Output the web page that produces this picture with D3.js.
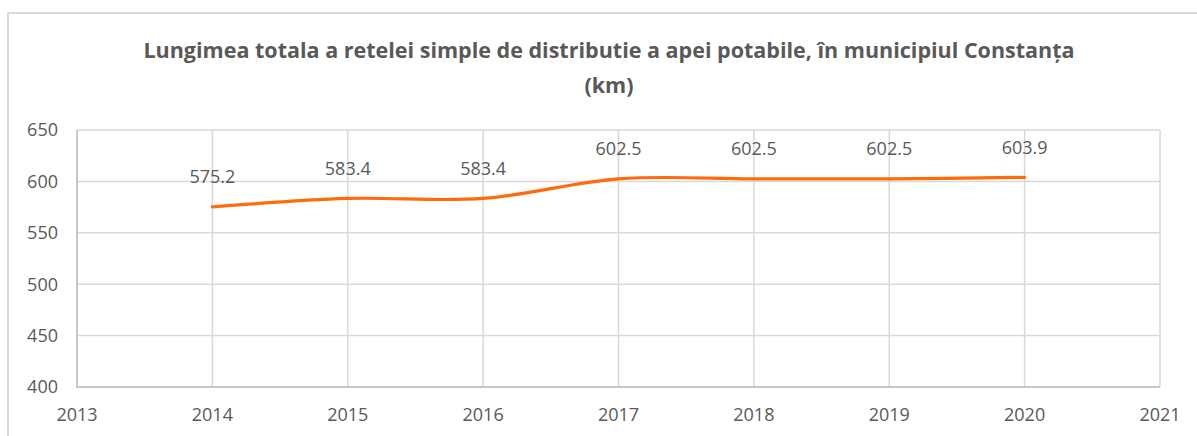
<!DOCTYPE html>
<html>
<head>
<meta charset="utf-8">
<script src="https://cdn.jsdelivr.net/npm/d3@7"></script>
<style>
  body { margin: 0; background: #fff; }
  svg { display: block; }
  text { font-family: "Open Sans", "Noto Sans", sans-serif; fill: #595959; }
</style>
</head>
<body>
<div id="chart"></div>
<script>
;(function () {
  'use strict';

  // chart data
  var years = [2014, 2015, 2016, 2017, 2018, 2019, 2020];
  var lengthKm = [575.2, 583.4, 583.4, 602.5, 602.5, 602.5, 603.9];
  var xTicks = [2013, 2014, 2015, 2016, 2017, 2018, 2019, 2020, 2021];
  var yTicks = [400, 450, 500, 550, 600, 650];
  var titleLines = ['Lungimea totala a retelei simple de distributie a apei potabile, în municipiul Constanța', '(km)'];

  var width = 1197, height = 436;
  var plot = { left: 77, right: 1160, top: 130, bottom: 387 };

  var svg = d3.select('#chart').append('svg')
    .attr('width', width)
    .attr('height', height);

  // outer chart border (runs off the right and bottom edges)
  svg.append('path')
    .attr('d', 'M8,' + (height + 5) + 'V13H' + (width + 5))
    .attr('fill', 'none')
    .attr('stroke', '#d9d9d9')
    .attr('stroke-width', 2);

  var x = d3.scaleLinear().domain([2013, 2021]).range([plot.left, plot.right]);
  var y = d3.scaleLinear().domain([400, 650]).range([plot.bottom, plot.top]);

  // gridlines
  svg.append('g').selectAll('line.h')
    .data(yTicks)
    .enter().append('line')
    .attr('x1', plot.left).attr('x2', plot.right)
    .attr('y1', function (d) { return y(d); })
    .attr('y2', function (d) { return y(d); })
    .attr('stroke', '#d9d9d9')
    .attr('stroke-width', 1.5);

  svg.append('g').selectAll('line.v')
    .data(xTicks)
    .enter().append('line')
    .attr('y1', plot.top).attr('y2', plot.bottom)
    .attr('x1', function (d) { return x(d); })
    .attr('x2', function (d) { return x(d); })
    .attr('stroke', '#d9d9d9')
    .attr('stroke-width', 1.5);

  // axis lines
  svg.append('path')
    .attr('d', 'M' + plot.left + ',' + plot.top + 'V' + plot.bottom + 'H' + plot.right)
    .attr('fill', 'none')
    .attr('stroke', '#c8c8c8')
    .attr('stroke-width', 2);

  // tick labels
  svg.append('g').selectAll('text')
    .data(yTicks)
    .enter().append('text')
    .attr('x', plot.left - 19)
    .attr('y', function (d) { return y(d); })
    .attr('dy', '0.35em')
    .attr('text-anchor', 'end')
    .style('font-size', '18px')
    .text(function (d) { return d; });

  svg.append('g').selectAll('text')
    .data(xTicks)
    .enter().append('text')
    .attr('x', function (d) { return x(d); })
    .attr('y', 415)
    .attr('dy', '0.35em')
    .attr('text-anchor', 'middle')
    .style('font-size', '18px')
    .text(function (d) { return d; });

  // series
  var points = years.map(function (yr, i) { return { x: yr, y: lengthKm[i] }; });

  var line = d3.line()
    .x(function (d) { return x(d.x); })
    .y(function (d) { return y(d.y); })
    .curve(d3.curveCardinal.tension(0));

  svg.append('path')
    .datum(points)
    .attr('d', line)
    .attr('fill', 'none')
    .attr('stroke', '#ff6a0d')
    .attr('stroke-width', 3.2)
    .attr('stroke-linecap', 'round');

  svg.append('g').selectAll('text')
    .data(points)
    .enter().append('text')
    .attr('x', function (d) { return x(d.x); })
    .attr('y', function (d) { return y(d.y) - 30; })
    .attr('dy', '0.35em')
    .attr('text-anchor', 'middle')
    .style('font-size', '18px')
    .text(function (d) { return d.y.toFixed(1); });

  // title
  var title = svg.append('g');
  titleLines.forEach(function (t, i) {
    title.append('text')
      .attr('x', 609)
      .attr('y', 50 + i * 35)
      .attr('dy', '0.35em')
      .attr('text-anchor', 'middle')
      .style('font-size', '19px')
      .style('font-weight', 'bold')
      .text(t);
  });

  // fit the first title line to the reference width
  var first = title.select('text').node();
  var w = first.getComputedTextLength();
  if (w > 0) {
    var size = 19 * 932 / w;
    title.selectAll('text').style('font-size', size + 'px');
  }
})();
</script>
</body>
</html>
